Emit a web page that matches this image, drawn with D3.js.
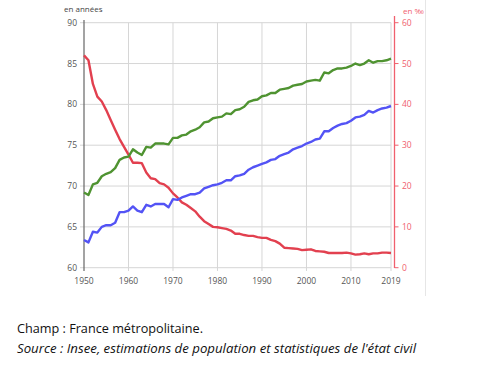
<!DOCTYPE html>
<html><head><meta charset="utf-8">
<script src="https://cdn.jsdelivr.net/npm/d3@7"></script>
<style>body{margin:0;background:#fff}svg{display:block}</style>
</head><body>
<script>
const years = d3.range(1950, 2020);
const women = [69.2,68.9,70.2,70.4,71.2,71.5,71.7,72.2,73.2,73.5,73.6,74.5,74.1,73.8,74.8,74.7,75.2,75.2,75.2,75.1,75.9,75.9,76.2,76.3,76.7,76.9,77.2,77.8,77.9,78.3,78.4,78.5,78.9,78.8,79.3,79.4,79.7,80.3,80.5,80.6,81.0,81.1,81.4,81.4,81.8,81.9,82.0,82.3,82.4,82.5,82.8,82.9,83.0,82.9,83.9,83.8,84.2,84.4,84.4,84.5,84.7,85.0,84.8,85.0,85.4,85.1,85.3,85.3,85.4,85.6];
const men = [63.4,63.1,64.4,64.3,65.0,65.2,65.2,65.5,66.8,66.8,67.0,67.5,67.0,66.8,67.7,67.5,67.8,67.8,67.8,67.4,68.4,68.3,68.6,68.8,69.0,69.0,69.2,69.7,69.9,70.1,70.2,70.4,70.7,70.7,71.2,71.3,71.5,72.0,72.3,72.5,72.7,72.9,73.2,73.3,73.7,73.9,74.1,74.5,74.7,74.9,75.2,75.4,75.7,75.8,76.7,76.7,77.1,77.4,77.6,77.7,78.0,78.4,78.5,78.7,79.2,79.0,79.3,79.5,79.6,79.8];
const infant = [52.0,50.8,45.0,41.9,40.7,38.6,36.2,33.8,31.5,29.6,27.7,25.7,25.7,25.6,23.3,21.9,21.7,20.7,20.4,19.6,18.2,17.2,16.0,15.4,14.6,13.8,12.5,11.4,10.7,10.0,9.9,9.7,9.5,9.1,8.3,8.3,8.0,7.8,7.8,7.5,7.3,7.3,6.8,6.5,5.9,4.9,4.8,4.7,4.6,4.3,4.4,4.5,4.1,4.0,3.9,3.6,3.6,3.6,3.6,3.7,3.5,3.2,3.3,3.5,3.3,3.5,3.5,3.7,3.7,3.6];
const xTicks = [1950,1960,1970,1980,1990,2000,2010,2019];
const leftTicks = [60,65,70,75,80,85,90];
const rightTicks = [0,10,20,30,40,50,60];
const leftLabel = "en années";
const rightLabel = "en ‰";
const captions = ["Champ : France métropolitaine.", "Source : Insee, estimations de population et statistiques de l'état civil"];

const W = 502, H = 370;
const svg = d3.select("body").append("svg").attr("width", W).attr("height", H);
const x = d3.scaleLinear().domain([1950, 2019]).range([84, 391]);
const yL = d3.scaleLinear().domain([60, 90]).range([267.7, 22.7]);
const yR = d3.scaleLinear().domain([0, 60]).range([267.7, 22.7]);
const font = "'Open Sans', sans-serif";

// faint frame line on right
svg.append("line").attr("x1", 425.5).attr("x2", 425.5).attr("y1", 0).attr("y2", 296)
  .attr("stroke", "#e6e6e6").attr("stroke-width", 1);

// grid
const grid = svg.append("g");
grid.selectAll(".h").data(leftTicks).join("line")
  .attr("x1", 80).attr("x2", 391).attr("y1", d => yL(d)).attr("y2", d => yL(d))
  .attr("stroke", "#d6d6d6").attr("stroke-width", 1);
grid.selectAll(".v").data(xTicks.slice(1)).join("line")
  .attr("x1", d => x(d)).attr("x2", d => x(d)).attr("y1", 22.7).attr("y2", 271)
  .attr("stroke", "#d6d6d6").attr("stroke-width", 1);

// left axis line
svg.append("line").attr("x1", 84).attr("x2", 84).attr("y1", 20).attr("y2", 271)
  .attr("stroke", "#666").attr("stroke-width", 1.2);

// left tick labels
svg.append("g").selectAll("text").data(leftTicks).join("text")
  .attr("x", 77).attr("y", d => yL(d) + 3).attr("text-anchor", "end")
  .attr("font-family", font).attr("font-size", 8.5).attr("fill", "#555").text(d => d);
svg.append("text").attr("x", 64).attr("y", 12).attr("font-family", font).attr("font-size", 8)
  .attr("fill", "#444").text(leftLabel);

// x tick labels
svg.append("g").selectAll("text").data(xTicks).join("text")
  .attr("x", d => x(d)).attr("y", 284).attr("text-anchor", "middle")
  .attr("font-family", font).attr("font-size", 8.5).attr("fill", "#555").text(d => d);

// right axis
const rc = "#f0606e";
svg.append("line").attr("x1", 394.5).attr("x2", 394.5).attr("y1", 16).attr("y2", 268)
  .attr("stroke", rc).attr("stroke-width", 1.3);
svg.append("g").selectAll("line").data(rightTicks).join("line")
  .attr("x1", 394.5).attr("x2", 398.5).attr("y1", d => yR(d)).attr("y2", d => yR(d))
  .attr("stroke", rc).attr("stroke-width", 1);
svg.append("g").selectAll("text").data(rightTicks).join("text")
  .attr("x", 402).attr("y", d => yR(d) + 3)
  .attr("font-family", font).attr("font-size", 8.5).attr("fill", rc).text(d => d);
svg.append("text").attr("x", 403).attr("y", 14).attr("font-family", font).attr("font-size", 8)
  .attr("fill", rc).text(rightLabel);

// lines
const lineL = d3.line().x((d, i) => x(years[i])).y(d => yL(d));
const lineR = d3.line().x((d, i) => x(years[i])).y(d => yR(d));
svg.append("path").datum(infant).attr("d", lineR).attr("fill", "none")
  .attr("stroke", "#e2404f").attr("stroke-width", 2.4).attr("stroke-linejoin", "round");
svg.append("path").datum(men).attr("d", lineL).attr("fill", "none")
  .attr("stroke", "#5353f5").attr("stroke-width", 2.4).attr("stroke-linejoin", "round");
svg.append("path").datum(women).attr("d", lineL).attr("fill", "none")
  .attr("stroke", "#4f9331").attr("stroke-width", 2.4).attr("stroke-linejoin", "round");

// captions
svg.append("text").attr("x", 17).attr("y", 333).attr("font-family", "'Open Sans', sans-serif")
  .attr("font-size", 12.3).attr("fill", "#111")
  .attr("textLength", 186).attr("lengthAdjust", "spacingAndGlyphs").text(captions[0]);
svg.append("text").attr("x", 17).attr("y", 353).attr("font-family", "'Open Sans', sans-serif")
  .attr("font-size", 12.3).attr("font-style", "italic").attr("fill", "#111")
  .attr("textLength", 399).attr("lengthAdjust", "spacingAndGlyphs").text(captions[1]);
</script>
</body></html>
